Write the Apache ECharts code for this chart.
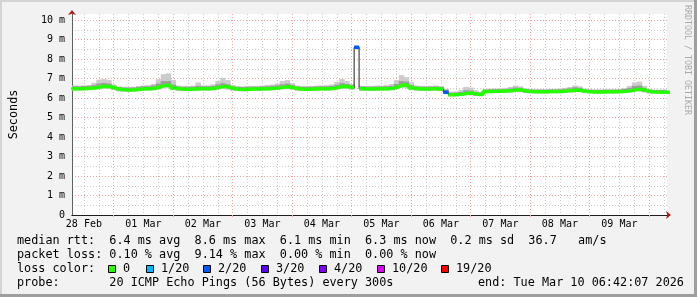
<!DOCTYPE html>
<html><head><meta charset="utf-8">
<script src="https://cdn.jsdelivr.net/npm/echarts@6/dist/echarts.min.js"></script>
<style>
html,body{margin:0;padding:0;background:#f2f2f2;}
#wrap{position:relative;width:697px;height:297px;overflow:hidden;background:#f2f2f2;}
#chart{position:absolute;left:0;top:0;width:697px;height:297px;}
.b{position:absolute;}
</style></head><body>
<div id="wrap"><div id="chart"></div>
<div class="b" style="left:0;top:0;width:697px;height:2px;background:#d4d4d4"></div>
<div class="b" style="left:0;top:0;width:2px;height:297px;background:#d4d4d4"></div>
<div class="b" style="right:0;top:0;width:3px;height:297px;background:#9e9e9e"></div>
<div class="b" style="left:0;bottom:0;width:697px;height:3px;background:#9e9e9e"></div>
</div>
<script>
// ---- data (hours after 28 Feb 00:00, one sample per 2 h) ----
const START_H = 7;
const STEP_H = 2;
const AXIS_MIN_H = 7.2;
const AXIS_MAX_H = 247.2;

const median = [
 6.48,6.48,6.49,6.50,6.53,6.58,6.60,6.58,6.50,6.44,
 6.42,6.41,6.42,6.45,6.48,6.48,6.50,6.58,6.66,6.64,
 6.52,6.46,6.45,6.45,6.46,6.47,6.48,6.48,6.50,6.56,
 6.60,6.55,6.47,6.45,6.44,6.45,6.46,6.46,6.47,6.48,
 6.50,6.52,6.56,6.58,6.52,6.47,6.45,6.45,6.46,6.47,
 6.48,6.48,6.50,6.55,6.60,6.58,6.52,8.60,6.47,6.46,
 6.46,6.47,6.47,6.48,6.50,6.58,6.68,6.64,6.52,6.47,
 6.46,6.46,6.47,6.47,6.45,6.30,6.17,6.18,6.20,6.26,
 6.24,6.19,6.18,6.33,6.34,6.35,6.35,6.36,6.38,6.42,
 6.40,6.35,6.33,6.32,6.32,6.32,6.33,6.33,6.34,6.36,
 6.38,6.41,6.39,6.34,6.32,6.31,6.31,6.32,6.32,6.32,
 6.33,6.35,6.38,6.44,6.45,6.38,6.32,6.31,6.30,6.30,
 6.30
];
const smokeHi = [
 6.64,6.64,6.65,6.67,6.77,6.94,6.97,6.92,6.70,6.60,
 6.58,6.57,6.58,6.62,6.64,6.66,6.72,6.97,7.22,7.27,
 6.92,6.64,6.62,6.62,6.64,6.80,6.65,6.65,6.70,6.87,
 7.04,6.92,6.67,6.62,6.60,6.62,6.62,6.62,6.64,6.67,
 6.70,6.74,6.87,6.92,6.77,6.64,6.62,6.62,6.62,6.64,
 6.65,6.66,6.70,6.82,6.97,6.87,6.72,8.65,6.62,6.62,
 6.62,6.64,6.64,6.66,6.72,6.92,7.17,7.07,6.80,6.64,
 6.62,6.62,6.62,6.64,6.62,6.47,6.32,6.34,6.42,6.57,
 6.54,6.40,6.32,6.47,6.48,6.49,6.50,6.52,6.57,6.64,
 6.60,6.50,6.47,6.46,6.46,6.46,6.47,6.47,6.49,6.52,
 6.57,6.64,6.60,6.49,6.46,6.45,6.45,6.46,6.46,6.46,
 6.47,6.52,6.62,6.80,6.84,6.62,6.47,6.44,6.44,6.44,
 6.44
];
const smokeLo = [
 6.38,6.38,6.39,6.40,6.42,6.45,6.47,6.46,6.40,6.34,
 6.32,6.31,6.32,6.35,6.38,6.38,6.40,6.45,6.50,6.50,
 6.42,6.36,6.35,6.35,6.36,6.37,6.38,6.38,6.40,6.44,
 6.46,6.43,6.37,6.35,6.34,6.35,6.36,6.36,6.37,6.38,
 6.40,6.42,6.44,6.45,6.42,6.37,6.35,6.35,6.36,6.37,
 6.38,6.38,6.40,6.44,6.47,6.46,6.42,8.50,6.37,6.36,
 6.36,6.37,6.37,6.38,6.40,6.45,6.52,6.50,6.42,6.37,
 6.36,6.36,6.37,6.37,6.35,6.20,6.08,6.09,6.10,6.15,
 6.14,6.10,6.09,6.24,6.25,6.26,6.26,6.27,6.28,6.31,
 6.30,6.26,6.24,6.23,6.23,6.23,6.24,6.24,6.25,6.27,
 6.28,6.30,6.29,6.25,6.23,6.22,6.22,6.23,6.23,6.23,
 6.24,6.26,6.28,6.33,6.34,6.29,6.23,6.22,6.21,6.21,
 6.21
];
const coreHi = [
 6.60,6.60,6.61,6.62,6.66,6.74,6.77,6.74,6.62,6.56,
 6.54,6.53,6.54,6.57,6.60,6.60,6.64,6.74,6.87,6.87,
 6.68,6.58,6.57,6.57,6.58,6.62,6.60,6.60,6.62,6.70,
 6.76,6.70,6.59,6.57,6.56,6.57,6.58,6.58,6.59,6.60,
 6.62,6.65,6.70,6.74,6.66,6.59,6.57,6.57,6.58,6.59,
 6.60,6.60,6.62,6.68,6.76,6.72,6.64,8.62,6.59,6.58,
 6.58,6.59,6.59,6.60,6.62,6.72,6.87,6.84,6.66,6.59,
 6.58,6.58,6.59,6.59,6.57,6.42,6.27,6.28,6.31,6.40,
 6.38,6.30,6.28,6.43,6.44,6.45,6.45,6.46,6.49,6.54,
 6.52,6.45,6.43,6.42,6.42,6.42,6.43,6.43,6.44,6.47,
 6.50,6.55,6.52,6.44,6.42,6.41,6.41,6.42,6.42,6.42,
 6.43,6.46,6.52,6.62,6.64,6.52,6.42,6.41,6.40,6.40,
 6.40
];
const coreLo = [
 6.42,6.42,6.43,6.44,6.47,6.51,6.53,6.51,6.44,6.38,
 6.36,6.35,6.36,6.39,6.42,6.42,6.44,6.51,6.58,6.57,
 6.46,6.40,6.39,6.39,6.40,6.41,6.42,6.42,6.44,6.50,
 6.53,6.49,6.41,6.39,6.38,6.39,6.40,6.40,6.41,6.42,
 6.44,6.46,6.50,6.51,6.46,6.41,6.39,6.39,6.40,6.41,
 6.42,6.42,6.44,6.49,6.53,6.51,6.46,8.55,6.41,6.40,
 6.40,6.41,6.41,6.42,6.44,6.51,6.60,6.57,6.46,6.41,
 6.40,6.40,6.41,6.41,6.39,6.24,6.11,6.12,6.14,6.20,
 6.18,6.13,6.12,6.27,6.28,6.29,6.29,6.30,6.32,6.36,
 6.34,6.29,6.27,6.26,6.26,6.26,6.27,6.27,6.28,6.30,
 6.32,6.35,6.33,6.28,6.26,6.25,6.25,6.26,6.26,6.26,
 6.27,6.29,6.32,6.38,6.39,6.32,6.26,6.25,6.24,6.24,
 6.24
];
const lossPings = [
 0,0,0,0,0,0,0,0,0,0, 0,0,0,0,0,0,0,0,0,0,
 0,0,0,0,0,0,0,0,0,0, 0,0,0,0,0,0,0,0,0,0,
 0,0,0,0,0,0,0,0,0,0, 0,0,0,0,0,0,0,2,0,0,
 0,0,0,0,0,0,0,0,0,0, 0,0,0,0,0,2,0,0,0,0,
 0,0,0,0,0,0,0,0,0,0, 0,0,0,0,0,0,0,0,0,0,
 0,0,0,0,0,0,0,0,0,0, 0,0,0,0,0,0,0,0,0,0,
 0
];
const xTickLabels = ['28 Feb','01 Mar','02 Mar','03 Mar','04 Mar','05 Mar','06 Mar','07 Mar','08 Mar','09 Mar'];
const yTickValues = [0,1,2,3,4,5,6,7,8,9,10];
const yTickLabels = ['0','1 m','2 m','3 m','4 m','5 m','6 m','7 m','8 m','9 m','10 m'];
const lossThresholds = [0,1,2,3,4,10,19];
const lossLegend = ['0','1/20','2/20','3/20','4/20','10/20','19/20'];
const lossColors = ['#26ff00','#00b8ff','#0059ff','#5e00ff','#7e00ff','#dd00ff','#ff0000'];
const statLines = [
 'median rtt:  6.4 ms avg  8.6 ms max  6.1 ms min  6.3 ms now  0.2 ms sd  36.7   am/s',
 'packet loss: 0.10 % avg  9.14 % max  0.00 % min  0.00 % now',
 'loss color:',
 'probe:       20 ICMP Echo Pings (56 Bytes) every 300s'
];
const endText = 'end: Tue Mar 10 06:42:07 2026';
const watermark = 'RRDTOOL / TOBI OETIKER';

// ---- derived ----
const T = median.map((_, i) => START_H + i * STEP_H);
function lossClass(l) { let k = 0; lossThresholds.forEach((th, j) => { if (l >= th) k = j; }); return k; }
function stepLine(pred) {
  const pts = [];
  median.forEach((v, i) => {
    if (pred(i)) { pts.push([T[i], v], [T[i] + STEP_H, v]); }
    else if (pts.length && pts[pts.length - 1][1] !== '-') { pts.push([T[i], '-']); }
  });
  return pts;
}
function smokeRenderer(fill) {
  return function (params, api) {
    const t = api.value(0);
    const a = api.coord([t, api.value(2)]);
    const b = api.coord([t + STEP_H, api.value(1)]);
    return { type: 'rect', shape: { x: a[0], y: a[1], width: b[0] - a[0] + 0.5, height: b[1] - a[1] },
             style: { fill: fill } };
  };
}
const noonTicks = xTickLabels.map((_, k) => 12 + 24 * k);
const midnightTicks = [];
const sixHourTicks = [];
for (let h = 6; h <= AXIS_MAX_H; h += 6) {
  if (h < AXIS_MIN_H) continue;
  if (h % 24 === 0) midnightTicks.push(h); else sixHourTicks.push(h);
}
const yMinor = yTickValues.slice(0, -1).map(v => v + 0.5);
const Y_MAX = 10.31;

const MONO = '"DejaVu Sans Mono", monospace';
const RED_GRID = '#f2a0a0';
const GREY_GRID = '#cacaca';
const ARROW = '#b01818';

const graphic = [];
statLines.forEach((s, k) => {
  graphic.push({ type: 'text', x: 17, y: 241 + 14 * k,
    style: { text: s, font: '11.8px ' + MONO, fill: '#000', verticalAlign: 'middle' } });
});
graphic.push({ type: 'text', x: 478, y: 283,
  style: { text: endText, font: '11.8px ' + MONO, fill: '#000', verticalAlign: 'middle' } });
const legendX = [108, 146, 203, 261, 319, 377, 441];
lossLegend.forEach((lab, k) => {
  graphic.push({ type: 'rect', shape: { x: legendX[k] + 0.5, y: 265.5, width: 7, height: 7 },
    style: { fill: lossColors[k], stroke: '#000', lineWidth: 1 } });
  graphic.push({ type: 'text', x: legendX[k] + 15, y: 269,
    style: { text: lab, font: '11.8px ' + MONO, fill: '#000', verticalAlign: 'middle' } });
});
graphic.push({ type: 'text', x: 687, y: 5, rotation: -Math.PI / 2,
  style: { text: watermark, font: '8.3px ' + MONO, fill: '#aaaaaa', align: 'left', verticalAlign: 'middle' } });

const chart = echarts.init(document.getElementById('chart'), null, { renderer: 'canvas' });
chart.setOption({
  animation: false,
  backgroundColor: 'transparent',
  grid: { left: 67, right: 30, top: 14, bottom: 82, show: true, backgroundColor: '#ffffff', borderWidth: 0 },
  xAxis: [
    { type: 'value', min: AXIS_MIN_H, max: AXIS_MAX_H, position: 'bottom', z: 1,
      axisLine: { show: true, onZero: false, lineStyle: { color: '#202020', width: 1 } },
      axisTick: { show: true, customValues: midnightTicks, length: 2, lineStyle: { color: RED_GRID } },
      axisLabel: { customValues: noonTicks, formatter: v => xTickLabels[Math.round((v - 12) / 24)],
                   fontFamily: MONO, fontSize: 10, color: '#000', margin: 4 },
      splitLine: { show: true, lineStyle: { color: RED_GRID, type: [1, 2], width: 1 } } },
    { type: 'value', min: AXIS_MIN_H, max: AXIS_MAX_H, position: 'bottom', z: 0,
      axisLine: { show: false }, axisTick: { show: false, customValues: sixHourTicks },
      axisLabel: { show: false },
      splitLine: { show: true, lineStyle: { color: GREY_GRID, type: [1, 2], width: 1 } } },
    { type: 'value', min: AXIS_MIN_H, max: AXIS_MAX_H, position: 'bottom', z: 0,
      axisLine: { show: true, onZero: false, symbol: ['none', 'arrow'], symbolSize: [6, 5], symbolOffset: [0, 4],
                  lineStyle: { color: ARROW, width: 1 } },
      axisTick: { show: false }, axisLabel: { show: false }, splitLine: { show: false } }
  ],
  yAxis: [
    { type: 'value', min: 0, max: Y_MAX, position: 'left', z: 1,
      name: 'Seconds', nameLocation: 'middle', nameGap: 52, nameRotate: 90,
      nameTextStyle: { fontFamily: MONO, fontSize: 11.8, color: '#000' },
      axisLine: { show: true, onZero: false, lineStyle: { color: '#606060', width: 1 } },
      axisTick: { show: false, customValues: yTickValues },
      axisLabel: { customValues: yTickValues, formatter: v => yTickLabels[Math.round(v)],
                   fontFamily: MONO, fontSize: 10, color: '#000', margin: 7 },
      splitLine: { show: true, lineStyle: { color: RED_GRID, type: [1, 2], width: 1 } } },
    { type: 'value', min: 0, max: Y_MAX, position: 'left', z: 0,
      axisLine: { show: false }, axisTick: { show: false, customValues: yMinor },
      axisLabel: { show: false },
      splitLine: { show: true, lineStyle: { color: GREY_GRID, type: [1, 2], width: 1 } } },
    { type: 'value', min: 0, max: Y_MAX, position: 'left', z: 0,
      axisLine: { show: true, onZero: false, symbol: ['none', 'arrow'], symbolSize: [6, 5], symbolOffset: [0, 4],
                  lineStyle: { color: ARROW, width: 1 } },
      axisTick: { show: false }, axisLabel: { show: false }, splitLine: { show: false } }
  ],
  series: [
    { type: 'custom', renderItem: smokeRenderer('#cccccc'), clip: true, silent: true, z: 2,
      encode: { x: 0, y: [1, 2] }, data: T.map((t, i) => [t, smokeLo[i], smokeHi[i]]) },
    { type: 'custom', renderItem: smokeRenderer('#9c9c9c'), clip: true, silent: true, z: 3,
      encode: { x: 0, y: [1, 2] }, data: T.map((t, i) => [t, coreLo[i], coreHi[i]]) },
    { type: 'line', data: stepLine(() => true), symbol: 'none', silent: true, z: 4,
      lineStyle: { color: '#202020', width: 1 } }
  ].concat(lossColors.map((c, k) => ({
    type: 'line', data: stepLine(i => lossClass(lossPings[i]) === k), symbol: 'none', silent: true, z: 5,
    connectNulls: false, lineStyle: { color: c, width: 3.5 }
  }))),
  graphic: graphic
});
</script>
</body></html>
